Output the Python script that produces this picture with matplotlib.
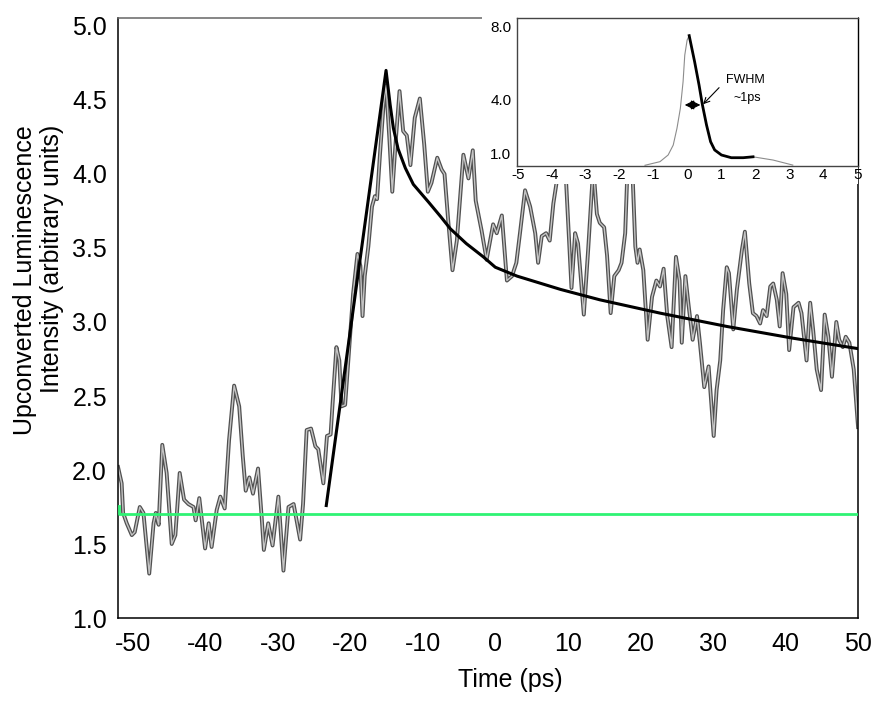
"""Upconverted luminescence trace with rise/decay fit and IRF inset."""
import matplotlib
matplotlib.use('Agg')
import matplotlib.pyplot as plt
from matplotlib.patches import Rectangle

plt.rcParams['font.family'] = ['Liberation Sans', 'DejaVu Sans']
plt.rcParams['axes.unicode_minus'] = False

# ---- main trace ----
trace_t = [-52.0, -51.5, -51.3, -50.8, -50.1, -49.7, -49.0, -48.5, -47.7, -47.1,
           -46.8, -46.4, -45.9, -45.3, -44.6, -44.1, -43.5, -42.9, -42.3, -41.6,
           -41.3, -40.8, -40.0, -39.5, -39.1, -38.4, -37.9, -37.3, -36.7, -36.0,
           -35.3, -34.8, -34.4, -33.9, -33.4, -32.7, -32.2, -31.9, -31.3, -30.7,
           -29.9, -29.2, -28.5, -27.8, -26.9, -26.5, -26.0, -25.4, -24.8, -24.4,
           -23.7, -23.2, -22.7, -22.4, -21.9, -21.5, -21.2, -20.7, -19.6, -19.0,
           -18.6, -18.3, -18.0, -17.5, -17.0, -16.6, -16.3, -15.9, -15.4, -15.06,
           -14.6, -14.2, -13.7, -13.2, -12.7, -12.2, -11.7, -11.1, -10.4, -9.8,
           -9.3, -8.8, -8.0, -7.4, -7.0, -6.5, -5.9, -5.3, -4.4, -3.7,
           -3.1, -2.7, -1.9, -1.2, -0.3, 0.2, 0.9, 1.6, 2.3, 2.9,
           3.4, 4.1, 4.8, 5.5, 5.9, 6.4, 7.0, 7.5, 8.0, 8.5,
           9.0, 9.6, 10.5, 11.0, 11.4, 12.2, 12.8, 13.5, 14.0, 14.4,
           15.0, 15.4, 15.9, 16.4, 17.0, 17.4, 17.9, 18.3, 18.8, 19.3,
           19.6, 19.9, 20.4, 21.0, 21.6, 22.2, 22.7, 23.2, 23.7, 24.3,
           24.9, 25.4, 25.7, 26.2, 26.6, 27.2, 27.8, 28.2, 28.8, 29.4,
           30.1, 30.5, 31.0, 31.4, 31.9, 32.2, 32.8, 33.3, 34.0, 34.4,
           35.0, 35.5, 36.0, 36.5, 36.9, 37.4, 37.9, 38.3, 38.8, 39.2,
           39.6, 40.1, 40.5, 41.1, 41.8, 42.2, 42.9, 43.4, 43.8, 44.3,
           44.9, 45.4, 45.9, 46.4, 47.0, 47.4, 47.9, 48.3, 48.8, 49.4,
           50.0]
trace_i = [2.02, 1.91, 1.71, 1.64, 1.56, 1.58, 1.75, 1.71, 1.30, 1.64,
           1.71, 1.63, 2.17, 1.98, 1.50, 1.56, 1.98, 1.80, 1.77, 1.75,
           1.66, 1.81, 1.47, 1.64, 1.48, 1.73, 1.82, 1.74, 2.20, 2.57,
           2.43, 2.09, 1.86, 1.95, 1.84, 2.01, 1.68, 1.46, 1.64, 1.49,
           1.82, 1.32, 1.75, 1.77, 1.53, 1.77, 2.27, 2.28, 2.16, 2.14,
           1.91, 2.23, 2.24, 2.47, 2.83, 2.74, 2.43, 2.44, 3.19, 3.46,
           3.38, 3.04, 3.31, 3.51, 3.78, 3.85, 3.83, 4.13, 4.47, 4.60,
           4.24, 3.88, 4.24, 4.56, 4.29, 4.26, 4.06, 4.38, 4.51, 4.20,
           3.88, 3.94, 4.11, 4.03, 4.00, 3.69, 3.35, 3.55, 4.13, 3.97,
           4.16, 3.82, 3.62, 3.42, 3.66, 3.60, 3.72, 3.28, 3.31, 3.40,
           3.60, 3.89, 3.78, 3.60, 3.40, 3.58, 3.60, 3.55, 3.80, 3.96,
           4.15, 4.10, 3.23, 3.60, 3.53, 3.05, 3.49, 4.05, 3.73, 3.67,
           3.64, 3.45, 3.06, 3.31, 3.35, 3.40, 3.60, 4.15, 4.15, 3.51,
           3.40, 3.49, 3.35, 2.88, 3.17, 3.28, 3.24, 3.36, 3.04, 2.83,
           3.44, 3.28, 2.86, 3.31, 3.13, 2.88, 3.04, 2.86, 2.56, 2.70,
           2.23, 2.54, 2.74, 3.08, 3.37, 3.33, 2.95, 3.22, 3.49, 3.61,
           3.26, 3.06, 3.04, 2.99, 3.08, 3.04, 3.24, 3.26, 3.15, 2.97,
           3.33, 3.19, 2.81, 3.10, 3.13, 3.06, 2.74, 3.13, 2.95, 2.68,
           2.54, 3.05, 2.90, 2.63, 3.00, 2.88, 2.83, 2.90, 2.86, 2.68,
           2.29]

# rise + decay fit
fit_t = [-23.3, -15.06, -14.5, -14.05, -13.4, -12.4, -11.3, -9.2, -7.5, -6.2,
         -4.0, -1.65, 0.0, 3.0, 9.0, 14.4, 22.7, 31.9, 41.1, 50.0]
fit_i = [1.76, 4.70, 4.47, 4.31, 4.17, 4.04, 3.93, 3.81, 3.71, 3.63,
         3.53, 3.44, 3.37, 3.31, 3.22, 3.15, 3.06, 2.97, 2.89, 2.82]

# background level
base_t = [-51.8, -51.8, 50.0]
base_i = [1.76, 1.70, 1.70]

# ---- inset: instrument response ----
irf_t = [-1.25, -0.81, -0.57, -0.42, -0.31, -0.21, -0.13, -0.08, -0.01, 0.05,
         0.21, 0.34, 0.44, 0.56, 0.68, 0.80, 1.0, 1.29, 1.64, 1.93,
         2.52, 3.1]
irf_i = [0.32, 0.52, 0.89, 1.44, 2.37, 3.48, 4.96, 6.44, 7.28, 7.52,
         6.07, 4.78, 3.67, 2.56, 1.63, 1.17, 0.89, 0.74, 0.74, 0.79,
         0.61, 0.33]
dec_t = irf_t[9:20]
dec_i = irf_i[9:20]

fig = plt.figure(figsize=(8.73, 7.03), dpi=100)
ax = fig.add_axes([0.1352, 0.1209, 0.8477, 0.8535])

ax.plot(trace_t, trace_i, color='#505050', lw=2.8, solid_joinstyle='round', zorder=2)
ax.plot(trace_t, trace_i, color='#c4c4c4', lw=1.0, solid_joinstyle='round', zorder=2.1)
ax.plot(base_t, base_i, color='#2ff374', lw=2.0, zorder=3)
ax.plot(fit_t, fit_i, color='black', lw=2.2, zorder=4)

ax.set_xlim(-52, 50)
ax.set_ylim(1.0, 5.054)
ax.set_xticks(range(-50, 51, 10))
ax.set_yticks([1.0, 1.5, 2.0, 2.5, 3.0, 3.5, 4.0, 4.5, 5.0])
ax.set_yticklabels(['1.0', '1.5', '2.0', '2.5', '3.0', '3.5', '4.0', '4.5', '5.0'])
ax.tick_params(axis='x', length=0, pad=10, labelsize=18)
ax.tick_params(axis='y', length=0, pad=8, labelsize=18)
for s in ax.spines.values():
    s.set_linewidth(1.1)
    s.set_color('black')
ax.spines['top'].set_color('#666666')

fig.text(0.585, 0.0327, 'Time (ps)', fontsize=18, ha='center', va='center')
fig.text(0.044, 0.822, 'Upconverted Luminescence\nIntensity (arbitrary units)',
         fontsize=18, rotation=90, ha='center', va='top', multialignment='right',
         linespacing=1.15)

# white patch behind the inset (the inset was pasted in as a picture)
fig.patches.append(Rectangle((482 / 873, (703 - 184) / 703), (858 - 482) / 873, 170 / 703,
                             transform=fig.transFigure, facecolor='white',
                             edgecolor='none', zorder=1))

ins = fig.add_axes([0.5922, 0.7644, 0.3906, 0.21])
ins.set_zorder(2)
ins.plot(irf_t, irf_i, color='#8c8c8c', lw=0.8)
ins.plot(dec_t, dec_i, color='black', lw=2.0)
ins.annotate('', xy=(-0.08, 3.67), xytext=(0.38, 3.67),
             arrowprops=dict(arrowstyle='<|-|>,head_length=0.4,head_width=0.2',
                             color='black', lw=0.8, shrinkA=0, shrinkB=0,
                             mutation_scale=14))
ins.annotate('', xy=(0.46, 3.71), xytext=(0.93, 4.63),
             arrowprops=dict(arrowstyle='->', color='black', lw=0.8,
                             shrinkA=0, shrinkB=0))
ins.text(1.7, 5.05, 'FWHM', fontsize=9, ha='center', va='center')
ins.text(1.77, 4.05, '~1ps', fontsize=9, ha='center', va='center')
ins.set_xlim(-5.02, 5.02)
ins.set_ylim(0.3, 8.5)
ins.set_xticks(range(-5, 6))
ins.set_yticks([1.0, 4.0, 8.0])
ins.set_yticklabels(['1.0', '4.0', '8.0'])
ins.tick_params(axis='x', length=0, pad=1.5, labelsize=11)
ins.tick_params(axis='y', length=0, pad=4, labelsize=11)
for s in ins.spines.values():
    s.set_linewidth(1.0)
    s.set_color('#444444')
ins.spines['right'].set_color('black')

fig.savefig('out.png', dpi=100)
